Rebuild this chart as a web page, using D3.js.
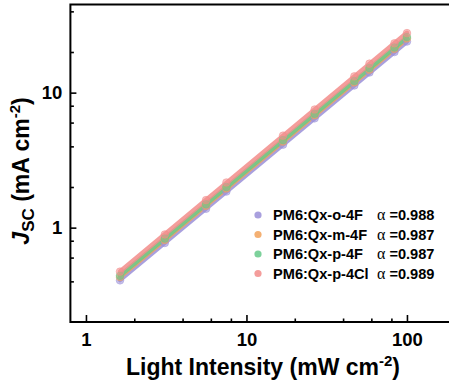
<!DOCTYPE html>
<html>
<head>
<meta charset="utf-8">
<script src="https://cdn.jsdelivr.net/npm/d3@7"></script>
<style>
  html, body { margin: 0; padding: 0; background: #fff; }
  svg { display: block; }
</style>
</head>
<body>
<svg id="chart" width="449" height="385"></svg>
<script>
// Light intensity (mW cm^-2)
const intensity = [1.63, 3.1, 5.6, 7.5, 16.9, 26.6, 47, 58.4, 83.6, 100];

// Jsc (mA cm^-2) for each blend
const jscO4F  = [0.407, 0.77, 1.38, 1.85, 4.12, 6.45, 11.3, 14.1, 20.0, 23.9];
const jscM4F  = [0.430, 0.81, 1.45, 1.95, 4.34, 6.80, 11.9, 14.8, 21.1, 25.2];
const jscP4F  = [0.440, 0.83, 1.49, 2.00, 4.45, 6.97, 12.2, 15.2, 21.6, 25.8];
const jscP4Cl = [0.472, 0.89, 1.60, 2.16, 4.80, 7.50, 13.2, 16.4, 23.2, 27.6];

const seriesNames = ["PM6:Qx-o-4F", "PM6:Qx-m-4F", "PM6:Qx-p-4F", "PM6:Qx-p-4Cl"];
const alphas = [0.988, 0.987, 0.987, 0.989];
const colors = ["#9a8fd8", "#f2a25a", "#66c98a", "#f28c8a"];

const xMajor = [1, 10, 100];
const xMinor = [2, 4, 6, 8, 20, 40, 60, 80, 200];
const yMajor = [1, 10];
const yMinor = [0.4, 0.6, 0.8, 2, 4, 6, 8, 20, 40];

const series = [jscO4F, jscM4F, jscP4F, jscP4Cl].map((vals, i) => ({
  name: seriesNames[i], alpha: alphas[i], color: colors[i],
  points: intensity.map((x, j) => ({ x, y: vals[j] }))
}));

const svg = d3.select("#chart");
const sans = "Arial, 'Liberation Sans', sans-serif";

const left = 70.4, bottom = 322;
const xDecade = 160.5, yDecade = 135;
const x = d3.scaleLog().domain([0.8, 200])
  .range([left, left + xDecade * Math.log10(200 / 0.8)]);
const y = d3.scaleLog().domain([0.2, 45])
  .range([bottom, bottom - yDecade * Math.log10(45 / 0.2)]);

// power-law fit line y = A * x^alpha, A from the mean offset in log space
const line = d3.line().x(d => x(d.x)).y(d => y(d.y));
const plot = svg.append("g");
series.forEach(s => {
  const logA = d3.mean(s.points, p => Math.log10(p.y) - s.alpha * Math.log10(p.x));
  const ends = [d3.min(intensity), d3.max(intensity)];
  const fit = ends.map(v => ({ x: v, y: Math.pow(10, logA) * Math.pow(v, s.alpha) }));
  plot.append("path").datum(fit)
    .attr("d", line)
    .attr("fill", "none")
    .attr("stroke", s.color)
    .attr("stroke-width", 4.5)
    .attr("stroke-opacity", 0.85)
    .attr("stroke-linecap", "round");
});
series.forEach(s => {
  plot.append("g").selectAll("circle").data(s.points).join("circle")
    .attr("cx", d => x(d.x))
    .attr("cy", d => y(d.y))
    .attr("r", 3.8)
    .attr("fill", s.color)
    .attr("fill-opacity", 0.55)
    .attr("stroke", s.color)
    .attr("stroke-opacity", 0.5)
    .attr("stroke-width", 1);
});

// frame and inward ticks
const [x0, x1] = x.range();
const [yb, yt] = y.range();
const frame = svg.append("g").attr("stroke", "#000").attr("stroke-width", 2).attr("fill", "none");
frame.append("path").attr("d", `M${x0},${yt}H${x1}V${yb}H${x0}Z`).attr("stroke-linejoin", "miter");

const xAxis = svg.append("g").attr("transform", `translate(0,${bottom})`);
xAxis.call(d3.axisBottom(x).tickValues(xMajor).tickSize(-7).tickFormat(d3.format("d")).tickPadding(11));
const xAxisMinor = svg.append("g").attr("transform", `translate(0,${bottom})`);
xAxisMinor.call(d3.axisBottom(x).tickValues(xMinor).tickSize(-3.5).tickFormat(""));
const yAxis = svg.append("g").attr("transform", `translate(${left},0)`);
yAxis.call(d3.axisLeft(y).tickValues(yMajor).tickSize(-6).tickFormat(d3.format("d")).tickPadding(8));
const yAxisMinor = svg.append("g").attr("transform", `translate(${left},0)`);
yAxisMinor.call(d3.axisLeft(y).tickValues(yMinor).tickSize(-3.5).tickFormat(""));

[xAxis, xAxisMinor, yAxis, yAxisMinor].forEach(g => {
  g.select(".domain").remove();
  g.selectAll(".tick line").attr("stroke", "#000").attr("stroke-width", 1.6);
  g.selectAll(".tick text").attr("fill", "#000")
    .style("font-family", sans).style("font-weight", "bold").style("font-size", "18.5px");
});

// axis titles
const xt = svg.append("text")
  .attr("x", 263).attr("y", 375)
  .attr("text-anchor", "middle")
  .style("font-family", sans).style("font-weight", "bold").style("font-size", "23px");
xt.append("tspan").text("Light Intensity (mW cm");
xt.append("tspan").text("-2").attr("dy", -9).style("font-size", "15px");
xt.append("tspan").text(")").attr("dy", 9);

const yt2 = svg.append("text")
  .attr("transform", "translate(29,171) rotate(-90)")
  .attr("text-anchor", "middle")
  .style("font-family", sans).style("font-weight", "bold").style("font-size", "23px");
yt2.append("tspan").text("J").style("font-style", "italic");
yt2.append("tspan").text("SC").attr("dy", 5).style("font-size", "17px");
yt2.append("tspan").text(" (mA cm").attr("dy", -5);
yt2.append("tspan").text("-2").attr("dy", -9).style("font-size", "15px");
yt2.append("tspan").text(")").attr("dy", 9);

// legend
const legend = svg.append("g");
series.forEach((s, i) => {
  const cy = 215 + i * 19.5;
  legend.append("circle").attr("cx", 258).attr("cy", cy).attr("r", 3.6)
    .attr("fill", s.color).attr("fill-opacity", 0.85);
  const name = legend.append("text").attr("x", 273).attr("y", cy + 5)
    .style("font-family", sans).style("font-weight", "bold").style("font-size", "14.6px")
    .text(s.name);
  const nameEnd = 273 + name.node().getComputedTextLength();
  const ax = Math.max(377, nameEnd + 8);
  const t = legend.append("text").attr("x", ax).attr("y", cy + 5);
  t.append("tspan").text("\u03b1 ").style("font-size", "16px")
    .style("font-family", "'Liberation Serif', 'Times New Roman', serif");
  t.append("tspan").text("=" + d3.format(".3f")(s.alpha)).style("font-size", "14.6px")
    .style("font-family", sans).style("font-weight", "bold");
});
</script>
</body>
</html>
